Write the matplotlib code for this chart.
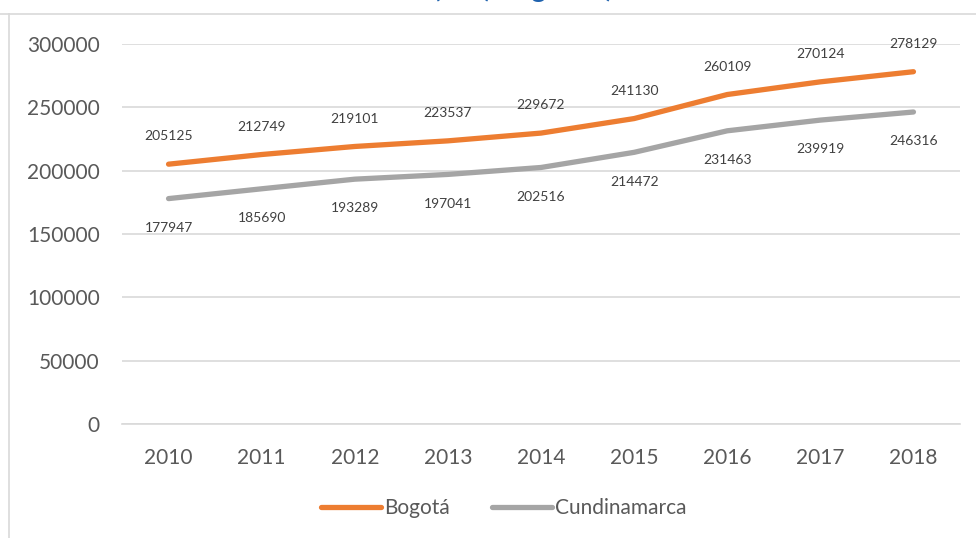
import matplotlib
matplotlib.use("Agg")
import matplotlib.pyplot as plt
from matplotlib.lines import Line2D

years = ["2010", "2011", "2012", "2013", "2014", "2015", "2016", "2017", "2018"]
bogota = [205125, 212749, 219101, 223537, 229672, 241130, 260109, 270124, 278129]
cundinamarca = [177947, 185690, 193289, 197041, 202516, 214472, 231463, 239919, 246316]
yticks = [0, 50000, 100000, 150000, 200000, 250000, 300000]
series_names = ["Bogotá", "Cundinamarca"]
title_text = "(PIB) Regional)"

plt.rcParams['font.family'] = ['Lato', 'DejaVu Sans']

fig = plt.figure(figsize=(9.76, 5.38), dpi=100)
ax = fig.add_axes([122/976, 1-424/538, (960-122)/976, (424-44)/538])

x = list(range(len(years)))
orange = "#ED7D31"
gray = "#A5A5A5"
ax.plot(x, bogota, color=orange, lw=3.8, solid_capstyle='round', zorder=3)
ax.plot(x, cundinamarca, color=gray, lw=3.8, solid_capstyle='round', zorder=3)

for xi, v in zip(x, bogota):
    ax.annotate(str(v), (xi, v), xytext=(0, 20), textcoords='offset points',
                ha='center', va='center', fontsize=10, color='#404040')
for xi, v in zip(x, cundinamarca):
    ax.annotate(str(v), (xi, v), xytext=(0, -21), textcoords='offset points',
                ha='center', va='center', fontsize=10, color='#404040')

ax.set_xlim(-0.5, len(years) - 0.5)
ax.set_ylim(0, 300000)
ax.set_yticks(yticks)
ax.set_yticklabels([str(t) for t in yticks])
ax.set_xticks(x)
ax.set_xticklabels(years)
ax.grid(axis='y', color='#D9D9D9', lw=1.2)
ax.set_axisbelow(True)
for s in ['top', 'right', 'left']:
    ax.spines[s].set_visible(False)
ax.spines['bottom'].set_color('#D9D9D9')
ax.spines['bottom'].set_linewidth(1.2)
ax.tick_params(axis='both', length=0, labelsize=15, colors='#595959')
ax.tick_params(axis='y', pad=16)
ax.tick_params(axis='x', pad=17)

handles = [Line2D([0], [0], color=orange, lw=3.8, solid_capstyle='round'),
           Line2D([0], [0], color=gray, lw=3.8, solid_capstyle='round')]
leg = fig.legend(handles, series_names, loc='center', bbox_to_anchor=(504/976, 1-508/538),
                 ncol=2, frameon=False, fontsize=15, handlelength=2.9,
                 handletextpad=0.15, columnspacing=2.0)
for t in leg.get_texts():
    t.set_color('#595959')

# chart frame (clipped)
fig.add_artist(Line2D([0, 1], [1-14/538, 1-14/538], color='#D9D9D9', lw=1.2,
                      transform=fig.transFigure))
fig.add_artist(Line2D([9/976, 9/976], [0, 1-14/538], color='#D9D9D9', lw=1.2,
                      transform=fig.transFigure))
# clipped title (only its lower edge shows, as in the reference)
fig.text(523/976, 1+3/538, title_text, ha='center', va='baseline', fontsize=20,
         fontweight='bold', color='#1F62AE')

fig.savefig("out.png", dpi=100)
